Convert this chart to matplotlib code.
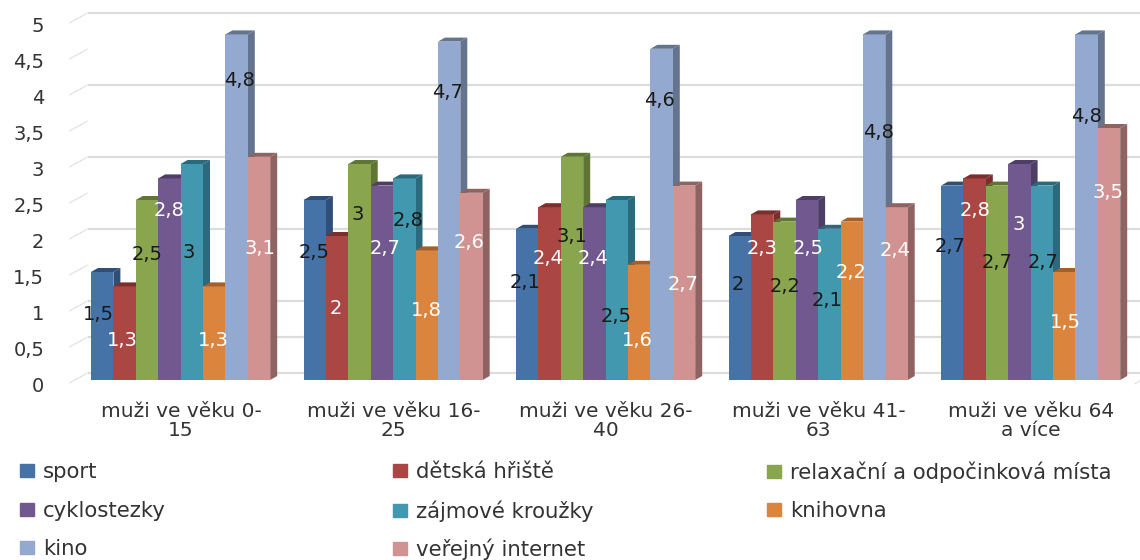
import matplotlib
matplotlib.use('Agg')
import matplotlib.pyplot as plt
from matplotlib.patches import Patch
from matplotlib.transforms import ScaledTranslation
import numpy as np

categories = ['muži ve věku 0-\n15', 'muži ve věku 16-\n25', 'muži ve věku 26-\n40',
              'muži ve věku 41-\n63', 'muži ve věku 64\na více']
series_names = ['sport', 'dětská hřiště', 'relaxační a odpočinková místa', 'cyklostezky',
                'zájmové kroužky', 'knihovna', 'kino', 'veřejný internet']
sport = [1.5, 2.5, 2.1, 2, 2.7]
hriste = [1.3, 2, 2.4, 2.3, 2.8]
relax = [2.5, 3, 3.1, 2.2, 2.7]
cyklo = [2.8, 2.7, 2.4, 2.5, 3]
krouzky = [3, 2.8, 2.5, 2.1, 2.7]
knihovna = [1.3, 1.8, 1.6, 2.2, 1.5]
kino = [4.8, 4.7, 4.6, 4.8, 4.8]
internet = [3.1, 2.6, 2.7, 2.4, 3.5]
series = [sport, hriste, relax, cyklo, krouzky, knihovna, kino, internet]
colors = ['#4572A7', '#AA4643', '#89A54E', '#71588F', '#4198AF', '#DB843D', '#93A9CF', '#D19392']
darks = ['#2f4f78', '#7a2f2d', '#5f7535', '#4e3d66', '#2b6a7c', '#a3602a', '#64748f', '#8f6362']
ticks = [0, 0.5, 1, 1.5, 2, 2.5, 3, 3.5, 4, 4.5, 5]
grid_levels = [0, 0.5, 1, 2, 3, 4, 5]

# data label placement, one row per series: pixel nudge from bar centre, pixel height in the image
label_dx = [[-4, -1, -2, -2, -2], [-2, -1, -2, 0, 0], [0, -2, 0, 1, 0], [0, 3, -1, 1, -1],
            [-3, 4, -1, -2, 1], [-1, 0, -2, -1, 1], [3, -2, -2, 4, 0], [1, -2, -1, -1, -1]]
label_py = [[315, 252, 283, 285, 247], [340, 308, 259, 248, 211], [254, 215, 236, 286, 262],
            [210, 248, 259, 248, 225], [253, 221, 316, 300, 262], [340, 310, 341, 272, 323],
            [80, 92, 100, 133, 116], [248, 242, 285, 250, 192]]
label_white = [False, True, False, True, False, True, False, True]

W, H = 1140, 560
AX_L, AX_R, AX_T, AX_B = 90, 1140, 20, 380
GROUP_W = 212.5
BAR = 22.4 / GROUP_W
LEFT0 = (91 - 181) / GROUP_W
DX = 7 / GROUP_W
DY = 4 / 72
TXT = '#333333'

plt.rcParams['font.family'] = 'DejaVu Sans'
plt.rcParams['font.size'] = 14.5

fig = plt.figure(figsize=(W / 100, H / 100), dpi=100)
ax = fig.add_axes([AX_L / W, 1 - AX_B / H, (AX_R - AX_L) / W, (AX_B - AX_T) / H])
ax.set_xlim((AX_L - 181) / GROUP_W, (AX_R - 181) / GROUP_W)
ax.set_ylim(0, 5)
for s in ax.spines.values():
    s.set_visible(False)

# back wall grid, shifted up from the front plane
back = 7 / 72
for v in grid_levels:
    ax.plot([-0.44, 4.6], [v + back] * 2, color='#dcdcdc', lw=1.6, zorder=1, clip_on=False,
            solid_capstyle='butt')
for v in ticks:
    ax.plot([-0.525, -0.44], [v - 3 / 72, v + back], color='#d2d2d2', lw=0.9, ls=(0, (1, 0.6)),
            zorder=1, clip_on=False)
ax.plot([4.49, 4.53], [-4 / 72, 2 / 72], color='#d2d2d2', lw=0.9, ls=(0, (1, 0.6)), clip_on=False)

x = np.arange(len(categories))
for k, vals in enumerate(series):
    lefts = x + LEFT0 + k * BAR
    ax.bar(lefts, vals, BAR, align='edge', color=colors[k], zorder=3 + k, clip_on=False)
    for xl, v in zip(lefts, vals):
        xr = xl + BAR
        ax.fill([xr, xr + DX, xr + DX, xr], [0, DY, v + DY, v], color=darks[k], lw=0,
                zorder=2 + k, clip_on=False)
        ax.fill([xl, xl + DX, xr + DX, xr], [v, v + DY, v + DY, v], color=darks[k], lw=0,
                zorder=3 + k, clip_on=False)
for k, vals in enumerate(series):
    for g, v in enumerate(vals):
        xc = g + LEFT0 + (k + 0.5) * BAR + label_dx[k][g] / GROUP_W
        yc = (AX_B - label_py[k][g]) / 72
        ax.text(xc, yc, str(v).replace('.', ','), ha='center', va='center', zorder=20,
                color='white' if label_white[k] else '#1a1a1a', fontsize=14)

ax.set_xticks(x)
ax.set_xticklabels(categories, color=TXT, linespacing=1.0)
ax.set_yticks(ticks)
ax.set_yticklabels([f'{t:g}'.replace('.', ',') for t in ticks], color=TXT, fontsize=14)
ax.tick_params(axis='x', length=0, pad=16)
ax.tick_params(axis='y', length=0, pad=33)
shift = ScaledTranslation(0, -3 / 72, fig.dpi_scale_trans)
for lab in ax.get_yticklabels():
    lab.set_transform(lab.get_transform() + shift)

# legend reads row by row; one entry per cell so the rows stay level across columns
col_x = [20, 393, 767]
row_y = [472, 511, 549]
for i, name in enumerate(series_names):
    cx = col_x[i % 3]
    cy = row_y[i // 3]
    fig.legend([Patch(color=colors[i])], [name], loc='center left',
               bbox_to_anchor=(cx / W, 1 - cy / H), frameon=False, borderpad=0, borderaxespad=0,
               handlelength=0.68, handleheight=0.55, handletextpad=0.4, fontsize=15.3,
               labelcolor=TXT)

fig.savefig('out.png', dpi=100)
